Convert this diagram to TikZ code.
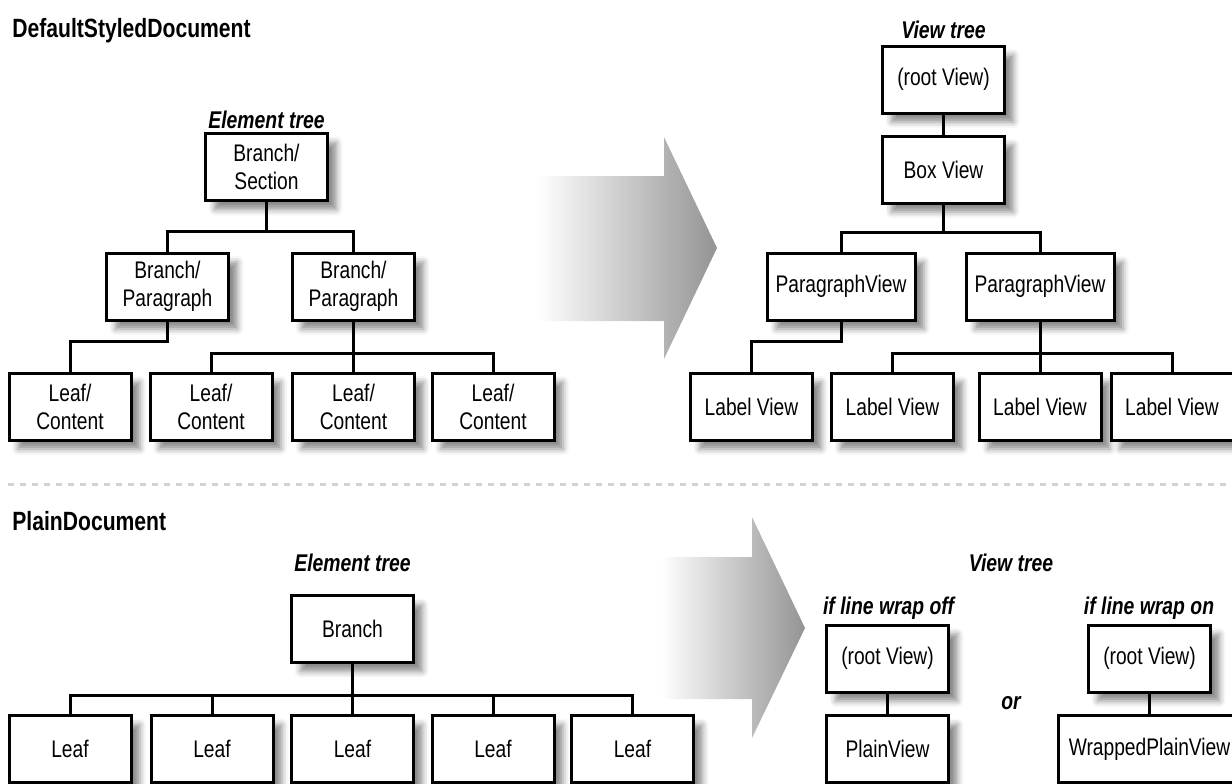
\documentclass[tikz,border=0pt]{standalone}
\usepackage{fontspec}
\setmainfont{Liberation Sans}[FakeStretch=0.8]
\usetikzlibrary{shadows.blur}

\tikzset{
  box/.style={draw, line width=1.5pt, fill=white, inner sep=0pt, align=center,
    minimum width=61pt, minimum height=33.5pt, font=\fontsize{12}{14}\selectfont,
    blur shadow={shadow xshift=4.5pt, shadow yshift=-4.5pt, shadow blur radius=3pt, shadow opacity=45}},
  wide/.style={minimum width=74pt},
  link/.style={line width=1.5pt},
  heading/.style={anchor=west, inner sep=0pt, font=\fontsize{13.2}{15}\selectfont\bfseries},
  caption/.style={inner sep=0pt, font=\fontsize{12.1}{14}\selectfont\bfseries\itshape},
  flow/.style={left color=white, right color=black!42},
}

\begin{document}
\begin{tikzpicture}[x=0.5pt, y=-0.5pt]
\useasboundingbox (0,0) rectangle (1232,783);

% DefaultStyledDocument, element tree
\node[heading] (dsd) at (12,31) {DefaultStyledDocument};
\node[caption] (etree) at (266.5,120) {Element tree};
\node[box] (bs) at (266.5,167) {Branch/\\Section};
\node[box] (bpl) at (167.5,286.5) {Branch/\\Paragraph};
\node[box] (bpr) at (353.5,286.5) {Branch/\\Paragraph};
\node[box] (lc1) at (70,406.5) {Leaf/\\Content};
\node[box] (lc2) at (211,406.5) {Leaf/\\Content};
\node[box] (lc3) at (353.5,406.5) {Leaf/\\Content};
\node[box] (lc4) at (493,406.5) {Leaf/\\Content};
\foreach \c in {bpl,bpr}
  \draw[link] (bs.south) -- ++(0,29) -| (\c.north);
\draw[link] (bpl.south) -- ++(0,20) -| (lc1.north);
\foreach \c in {lc2,lc3,lc4}
  \draw[link] (bpr.south) -- ++(0,32) -| (\c.north);

\shade[flow] (537,176) -- (664,176) -- (664,137) -- (717,248) -- (664,359)
  -- (664,321) -- (537,321) -- cycle;

% view tree
\node[caption] (vtree) at (943.5,30) {View tree};
\node[box] (rv) at (943.5,79.5) {(root View)};
\node[box] (bv) at (943.5,169.5) {Box View};
\node[box, wide] (pvl) at (841,286.5) {ParagraphView};
\node[box, wide] (pvr) at (1040,286.5) {ParagraphView};
\node[box] (lv1) at (751.5,406.5) {Label View};
\node[box] (lv2) at (892.5,406.5) {Label View};
\node[box] (lv3) at (1040,406.5) {Label View};
\node[box] (lv4) at (1172,406.5) {Label View};
\draw[link] (rv) -- (bv);
\foreach \c in {pvl,pvr}
  \draw[link] (bv.south) -- ++(0,28) -| (\c.north);
\draw[link] (pvl.south) -- ++(0,20) -| (lv1.north);
\foreach \c in {lv2,lv3,lv4}
  \draw[link] (pvr.south) -- ++(0,32) -| (\c.north);

\draw[gray!35, line width=1.5pt, dash pattern=on 3pt off 3pt] (8,484) -- (1232,484);

% PlainDocument
\node[heading] (pd) at (12,521.5) {PlainDocument};
\node[caption] (etree2) at (352.5,563) {Element tree};
\node[box] (br) at (352.5,629) {Branch};
\foreach \x [count=\i] in {70,212,352.5,493,632.5}
  \node[box] (lf\i) at (\x,749) {Leaf};
\foreach \i in {1,...,5}
  \draw[link] (br.south) -- ++(0,31) -| (lf\i.north);

\shade[flow] (661,557) -- (752,557) -- (752,517) -- (805,628) -- (752,738)
  -- (752,699) -- (661,699) -- cycle;

\node[caption] (vtree2) at (1011,563) {View tree};
\node[caption] (off) at (888.5,608) {if line wrap off};
\node[caption] (on) at (1149,608) {if line wrap on};
\node[box] (rvoff) at (887.5,658.5) {(root View)};
\node[box] (plain) at (887.5,749) {PlainView};
\node[caption] (or) at (1011,703) {or};
\node[box] (rvon) at (1149.5,658.5) {(root View)};
\node[box, minimum width=91pt] (wrapped) at (1149.5,749) {WrappedPlainView};
\draw[link] (rvoff) -- (plain);
\draw[link] (rvon) -- (wrapped);
\end{tikzpicture}
\end{document}
